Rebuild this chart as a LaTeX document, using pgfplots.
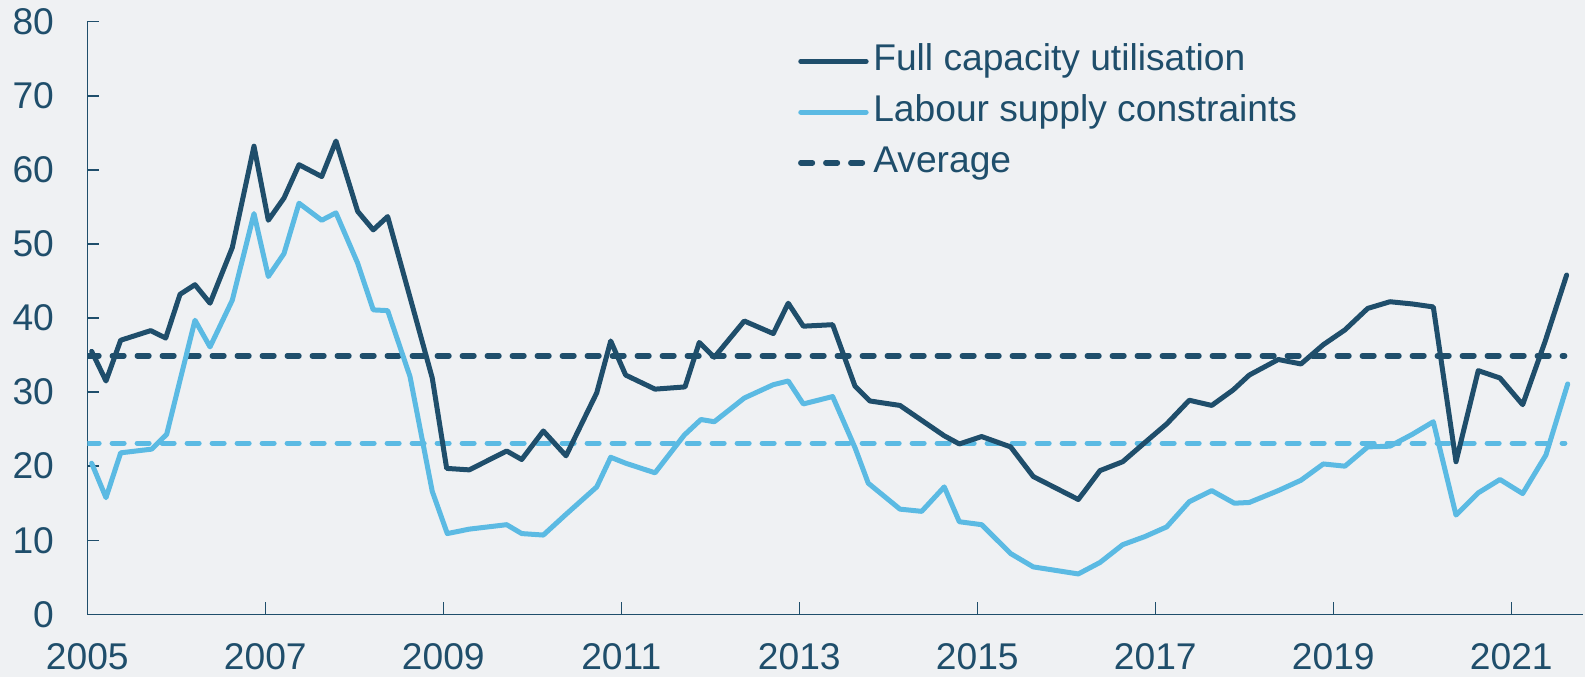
\documentclass[border=0pt]{standalone}
\usepackage{pgfplots}
\pgfplotsset{compat=1.18}
\usepackage{fontspec}
\setmainfont{Liberation Sans}
\definecolor{navy}{RGB}{31,78,107}
\definecolor{lblue}{RGB}{91,186,227}
\definecolor{bg}{RGB}{239,241,243}
\begin{document}
\begin{tikzpicture}
\fill[bg] (-43.65pt,-31.35pt) rectangle (748.85pt,307.15pt);
\begin{axis}[
 at={(0,0)}, anchor=south west,
 scale only axis, width=747.85pt, height=296.28pt,
 xmin=2005, xmax=2021.806, ymin=0, ymax=80,
 axis lines=left, axis line style={-, navy, line width=0.7pt},
 xtick={2005,2007,...,2021}, ytick={0,10,...,80},
 tick align=inside, major tick length=6pt, tick style={navy, line width=0.7pt},
 /pgf/number format/assume math mode=true,
 /pgf/number format/1000 sep={},
 tick label style={font=\fontsize{18.6}{22}\selectfont, text=navy},
 xticklabel style={anchor=north, inner sep=0pt, yshift=-14.3pt},
 yticklabel style={anchor=east, inner sep=0pt, xshift=-16.5pt},
 legend style={at={(0.4752,0.9624)}, anchor=north west, draw=none, fill=none,
   inner sep=0pt, outer sep=0pt, row sep=8.1pt, column sep=2.2pt,
   font=\fontsize{18.6}{22}\selectfont, text=navy,
   nodes={inner sep=0pt, text height=13.4pt, text depth=3.9pt}},
 legend cell align=left,
 reverse legend,
 legend image code/.code={\draw[#1, line cap=round] (0pt,0pt) -- (32.7pt,0pt);},
]
% averages
\addplot[navy, line width=2.7pt, line cap=round, dash pattern=on 5.85pt off 6.65pt]
 coordinates {(2005,34.9) (2021.6,34.9)};
\addlegendentry{Average}
\addplot[lblue, line width=2.7pt, line cap=round, dash pattern=on 5.85pt off 6.65pt, forget plot]
 coordinates {(2005,23.1) (2021.6,23.1)};
% labour supply constraints
\addplot[lblue, line width=2.5pt, line join=round, line cap=round] coordinates {
(2005.049,20.4) (2005.210,15.75) (2005.375,21.8) (2005.723,22.3) (2005.892,24.3)
(2006.042,31.6) (2006.210,39.7) (2006.379,36.1) (2006.629,42.4) (2006.873,54.1)
(2007.034,45.6) (2007.210,48.7) (2007.379,55.5) (2007.634,53.2) (2007.794,54.2)
(2008.038,47.4) (2008.213,41.1) (2008.375,41.0) (2008.626,32.1) (2008.876,16.6)
(2009.045,10.9) (2009.292,11.5) (2009.712,12.1) (2009.881,10.9) (2010.124,10.7)
(2010.379,13.5) (2010.724,17.2) (2010.881,21.2) (2011.049,20.4) (2011.379,19.1)
(2011.708,24.2) (2011.895,26.3) (2012.045,26.0) (2012.382,29.2) (2012.708,31.0)
(2012.876,31.5) (2013.045,28.4) (2013.375,29.4) (2013.626,22.5) (2013.775,17.7)
(2014.131,14.2) (2014.375,13.9) (2014.629,17.2) (2014.798,12.5) (2015.049,12.1)
(2015.375,8.2) (2015.629,6.4) (2016.135,5.45) (2016.379,7.0) (2016.634,9.4)
(2016.884,10.5) (2017.128,11.8) (2017.382,15.2) (2017.634,16.7) (2017.888,15.0)
(2018.056,15.1) (2018.382,16.7) (2018.637,18.1) (2018.888,20.3) (2019.131,20.0)
(2019.387,22.6) (2019.637,22.7) (2019.888,24.3) (2020.124,26.0) (2020.379,13.4)
(2020.629,16.4) (2020.873,18.2) (2021.128,16.3) (2021.389,21.5) (2021.634,31.1)
};
\addlegendentry{Labour supply constraints}
% full capacity utilisation
\addplot[navy, line width=2.5pt, line join=round, line cap=round] coordinates {
(2005.049,35.5) (2005.210,31.5) (2005.375,37.0) (2005.712,38.3) (2005.881,37.3)
(2006.042,43.2) (2006.210,44.5) (2006.379,42.0) (2006.629,49.5) (2006.873,63.2)
(2007.034,53.2) (2007.210,56.2) (2007.379,60.7) (2007.634,59.1) (2007.794,63.9)
(2008.038,54.4) (2008.213,51.9) (2008.375,53.7) (2008.626,42.8) (2008.876,31.9)
(2009.038,19.7) (2009.292,19.5) (2009.712,22.05) (2009.881,20.9) (2010.124,24.75)
(2010.379,21.4) (2010.724,29.9) (2010.881,36.9) (2011.049,32.3) (2011.379,30.4)
(2011.716,30.7) (2011.876,36.7) (2012.045,34.7) (2012.382,39.6) (2012.708,37.9)
(2012.876,42.0) (2013.045,38.9) (2013.375,39.1) (2013.626,30.8) (2013.794,28.8)
(2014.131,28.2) (2014.629,24.1) (2014.798,23.0) (2015.049,24.0) (2015.375,22.6)
(2015.629,18.6) (2016.135,15.5) (2016.379,19.4) (2016.634,20.6) (2016.884,23.2)
(2017.128,25.7) (2017.382,28.9) (2017.634,28.2) (2017.876,30.3) (2018.056,32.3)
(2018.382,34.4) (2018.637,33.8) (2018.888,36.4) (2019.131,38.4) (2019.387,41.3)
(2019.637,42.2) (2019.888,41.9) (2020.124,41.5) (2020.379,20.6) (2020.629,32.9)
(2020.873,31.9) (2021.128,28.3) (2021.379,36.8) (2021.622,45.8)
};
\addlegendentry{Full capacity utilisation}
\end{axis}
\pgfresetboundingbox
\path (-43.65pt,-31.35pt) rectangle (748.85pt,307.15pt);
\end{tikzpicture}
\end{document}
